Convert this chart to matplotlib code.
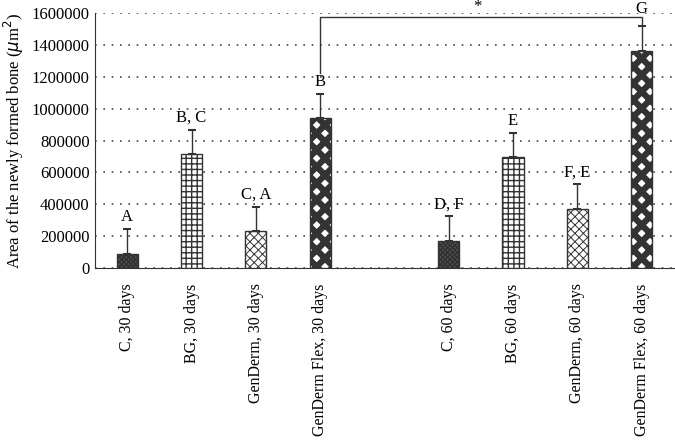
import numpy as np
import matplotlib.pyplot as plt
import matplotlib as mpl

plt.rcParams['font.family'] = ['Liberation Serif', 'DejaVu Serif']

labels = ['C, 30 days', 'BG, 30 days', 'GenDerm, 30 days', 'GenDerm Flex, 30 days',
          '', 'C, 60 days', 'BG, 60 days', 'GenDerm, 60 days', 'GenDerm Flex, 60 days']
means = [90000, 715000, 232000, 941000, None, 170000, 696000, 370000, 1362000]
errs = [155000, 151000, 151000, 151000, None, 156000, 151000, 157000, 156000]
letters = ['A', 'B, C', 'C, A', 'B', '', 'D, F', 'E', 'F, E', 'G']

hatches = ['xxxxxxx', '+++', 'xxxx', 'xx', None, 'xxxxxxx', '+++', 'xxxx', 'xx']
hatch_lw = [1.2, 1.0, 0.7, 4.5, None, 1.2, 1.0, 0.7, 4.5]
faces = ['#555555', 'white', 'white', 'white', None, '#555555', 'white', 'white', 'white']

fig = plt.figure(figsize=(6.75, 4.47), dpi=100)
ax = fig.add_axes([0.141, 0.40, 0.857, 0.571])

x = np.arange(len(labels))
for i in x:
    if means[i] is None:
        continue
    with mpl.rc_context({'hatch.linewidth': hatch_lw[i], 'hatch.color': '#111111'}):
        ax.bar(i, means[i], width=0.33, color=faces[i], edgecolor='#333333',
               hatch=hatches[i], linewidth=1.0, zorder=3)
    ax.errorbar(i, means[i], yerr=[[0], [errs[i]]], fmt='none', ecolor='#333333',
                elinewidth=1.0, capsize=3, capthick=1.5, zorder=4)
    if i != 8:
        ax.text(i, means[i] + errs[i] + 25000, letters[i], ha='center', va='bottom', fontsize=12)
    else:
        ax.text(i, 1575000, letters[i], ha='center', va='bottom', fontsize=12, clip_on=False)

# significance bracket
ax.plot([3, 3, 8, 8], [1225000, 1575000, 1575000, 1525000], color='#333333', lw=1.0,
        clip_on=False, zorder=5)
ax.text(5.45, 1585000, '*', ha='center', va='bottom', fontsize=12, clip_on=False)

ax.set_xlim(-0.5, 8.5)
ax.set_ylim(0, 1600000)
ax.set_yticks(np.arange(0, 1600001, 200000))
ax.set_yticklabels([str(v) for v in range(0, 1600001, 200000)], fontsize=12)
ax.set_xticks(x)
ax.set_xticklabels(labels, rotation=90, fontsize=11.5)
ax.tick_params(axis='y', length=0, pad=4)
ax.tick_params(axis='x', length=0, pad=11)
ax.yaxis.grid(True, linestyle=(0, (1, 4)), color='#444444', linewidth=1.2, zorder=0)
ax.spines['top'].set_visible(False)
ax.spines['right'].set_visible(False)
ax.spines['left'].set_color('#333333')
ax.spines['bottom'].set_color('#333333')
ax.set_ylabel('Area of the newly formed bone ($\\mu$m$^2$)', fontsize=12, labelpad=4)

fig.savefig('out.png', dpi=100)
